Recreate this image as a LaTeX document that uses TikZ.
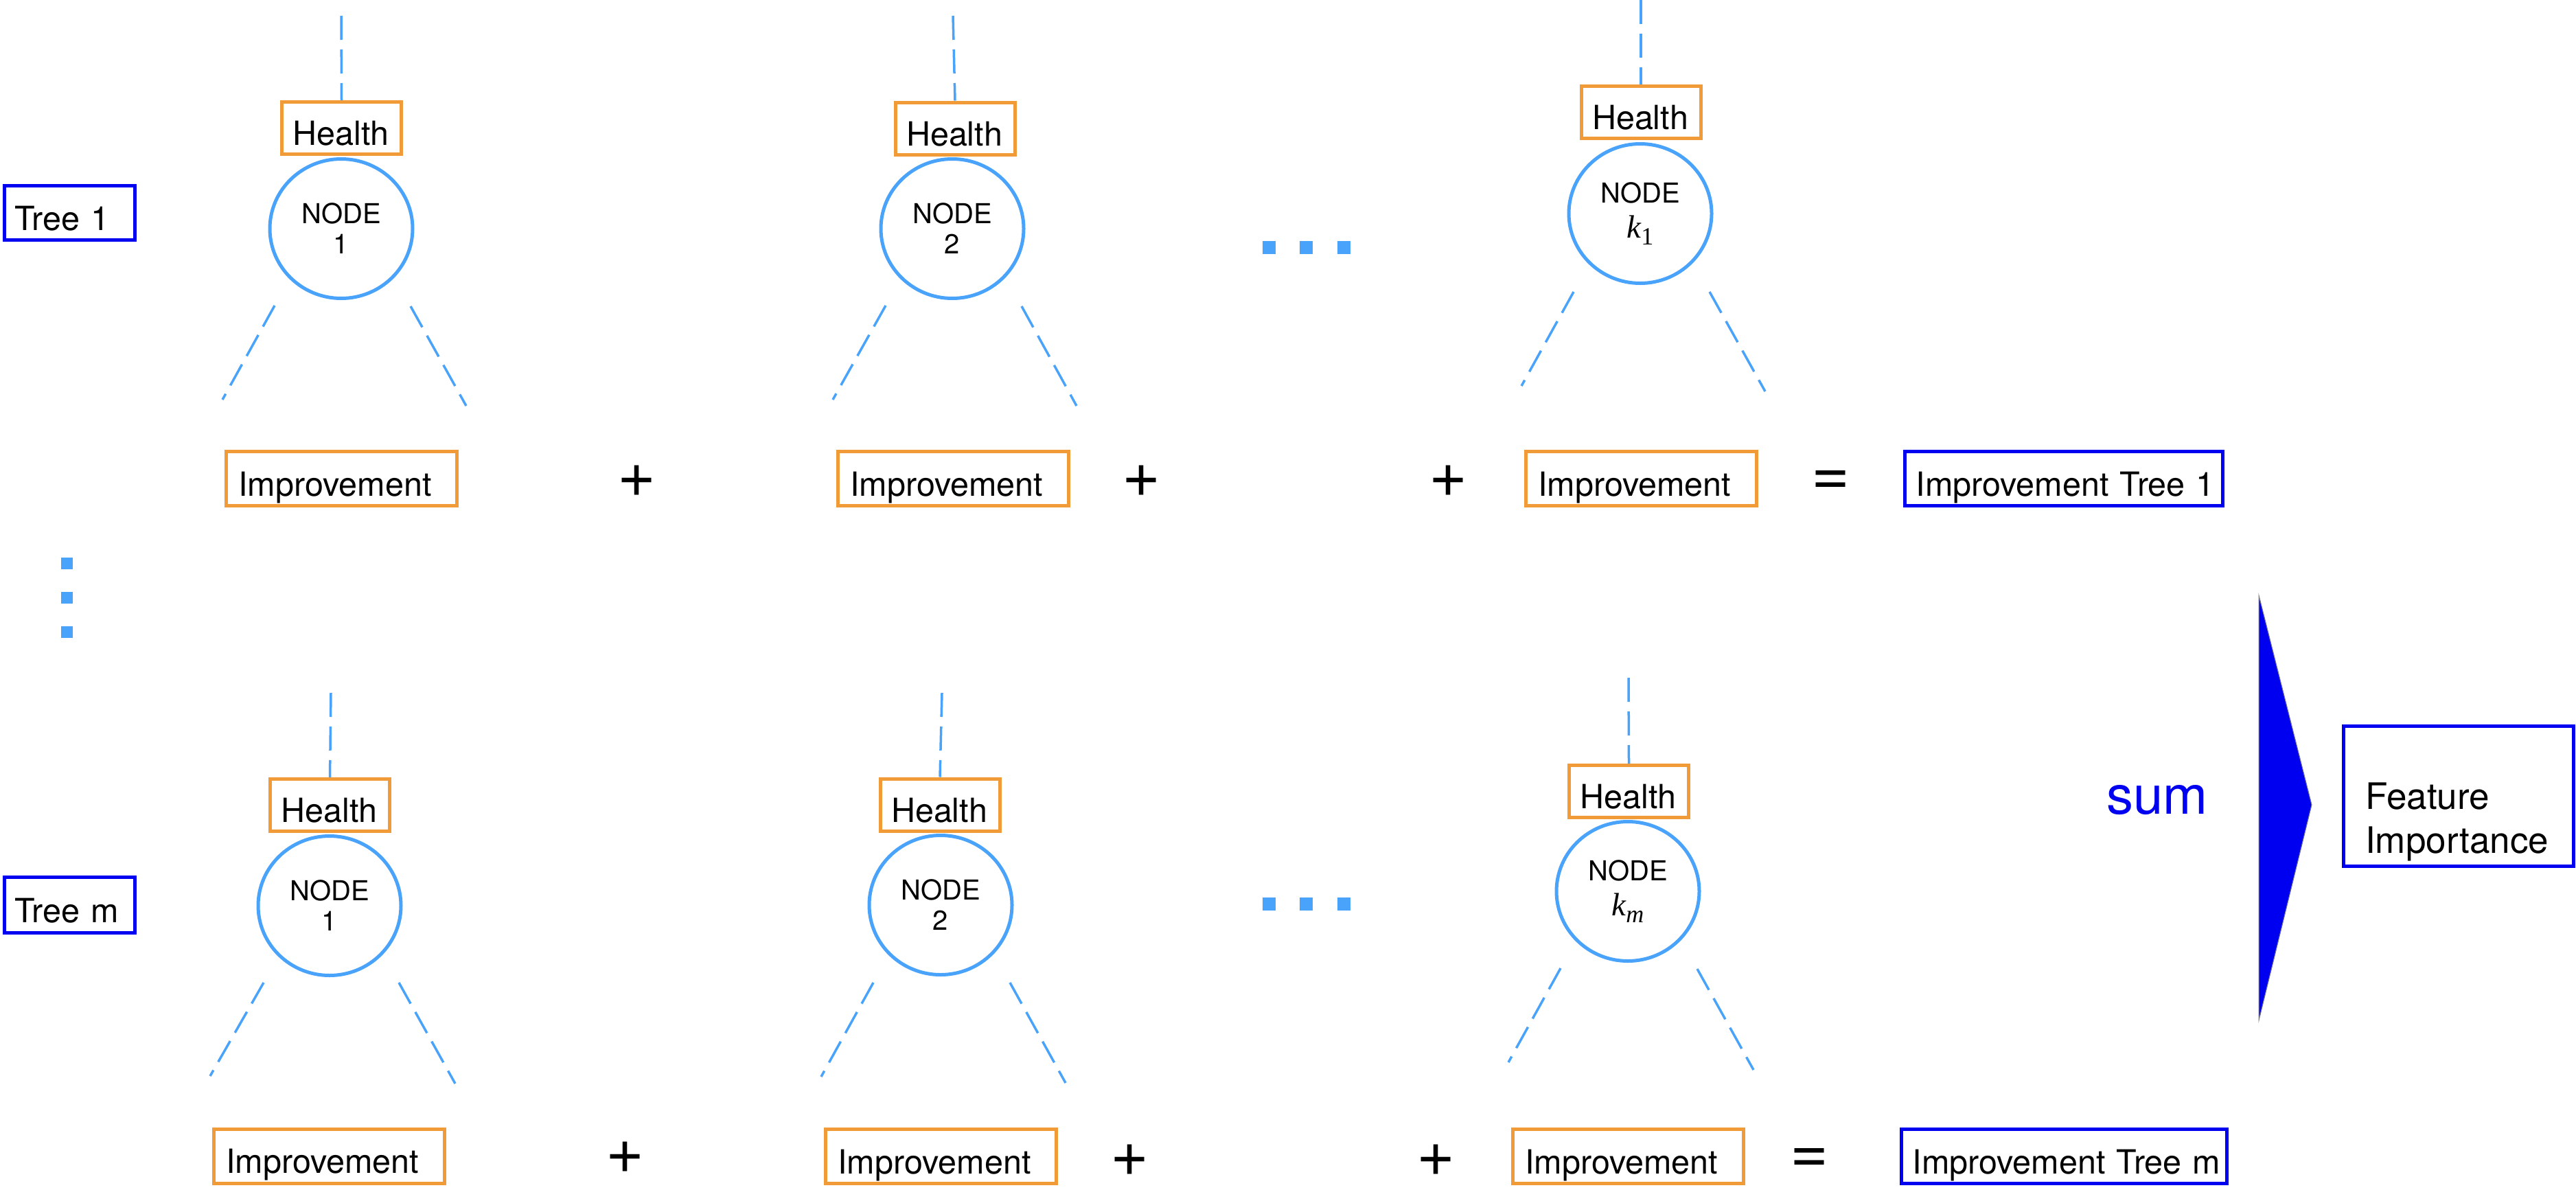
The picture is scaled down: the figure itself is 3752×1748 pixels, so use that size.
\documentclass[tikz,border=0pt]{standalone}
\usepackage{fontspec}
\setmainfont{TeX Gyre Heros}
\newfontfamily\tnrfont{Liberation Serif}
\usetikzlibrary{shapes.geometric}
\definecolor{korange}{RGB}{240,154,56}
\definecolor{klblue}{RGB}{74,163,250}
\definecolor{kblue}{RGB}{0,0,240}
\newcommand{\myLab}{\fontsize{48.5}{56}\selectfont}
\newcommand{\myNode}{\fontsize{40}{44}\selectfont}
\newcommand{\kvar}[1]{{\fontsize{47}{47}\selectfont\tnrfont\itshape k}\raisebox{-10pt}{\fontsize{36}{36}\selectfont\tnrfont #1}}
\begin{document}
\begin{tikzpicture}[x=1pt,y=-1pt,
  box/.style={rectangle, line width=5pt, inner ysep=0pt, align=left, text height=50pt, text depth=0pt, font=\myLab},
  obox/.style={box, draw=korange},
  bbox/.style={box, draw=kblue},
  impr/.style={obox, minimum height=79pt, text width=300pt, inner xsep=18pt},
  health/.style={obox, minimum height=76pt, text width=142pt, inner xsep=16pt},
  treebox/.style={bbox, minimum height=79pt, text width=160pt, inner xsep=15pt},
  resbox/.style={bbox, minimum height=79pt, text width=#1, inner xsep=16pt},
  tnode/.style={ellipse, draw=klblue, line width=5pt, minimum width=208pt, minimum height=203pt, inner sep=0pt, align=center, font=\myNode},
  branch/.style={draw=klblue, line width=3.5pt, dash pattern=on 35pt off 14pt},
  dotsq/.style={rectangle, fill=klblue, inner sep=0pt, minimum size=#1},
  op/.style={font=\fontsize{96}{96}\selectfont, inner sep=0pt},
]
\useasboundingbox (0,0) rectangle (3752,1748);

% ---------------- row 1 ----------------
\node[treebox] (tree1) at (101.5,310) {Tree 1};

% tree 1, node 1
\node[health] (h11) at (497.5,186.5) {Health};
\node[tnode] (c11) at (497,333) {NODE\\1};
\node[impr] (i11) at (497.5,697) {Improvement};
\coordinate (t11) at (497,23);
\coordinate (l11a) at (400,445); \coordinate (l11b) at (324,582);
\coordinate (r11a) at (598,446); \coordinate (r11b) at (679,591);
\draw[branch] (t11) -- (h11.north);
\draw[branch] (l11a) -- (l11b);
\draw[branch] (r11a) -- (r11b);

% tree 1, node 2
\node[health] (h12) at (1391,187) {Health};
\node[tnode] (c12) at (1387,333) {NODE\\2};
\node[impr] (i12) at (1388,697) {Improvement};
\coordinate (t12) at (1388,23);
\coordinate (l12a) at (1290,445); \coordinate (l12b) at (1213,582);
\coordinate (r12a) at (1488,446); \coordinate (r12b) at (1568,591);
\draw[branch] (t12) -- (h12.north);
\draw[branch] (l12a) -- (l12b);
\draw[branch] (r12a) -- (r12b);

% tree 1, node k1
\node[health] (h13) at (2390,163) {Health};
\node[tnode] (c13) at (2389,311) {NODE\\[7pt]\kvar{1}};
\node[impr] (i13) at (2390,697) {Improvement};
\coordinate (t13) at (2390,0);
\coordinate (l13a) at (2292,425); \coordinate (l13b) at (2216,562);
\coordinate (r13a) at (2490,425); \coordinate (r13b) at (2571,570);
\draw[branch] (t13) -- (h13.north);
\draw[branch] (l13a) -- (l13b);
\draw[branch] (r13a) -- (r13b);

\node[dotsq=19pt] (d11) at (1848,360) {};
\node[dotsq=19pt] (d12) at (1902,360) {};
\node[dotsq=19pt] (d13) at (1957,360) {};

\node[op] (p11) at (928,701) {+};
\node[op] (p12) at (1663,701) {+};
\node[op] (p13) at (2110,701) {+};
\node[op] (e1) at (2666,703) {=};
\node[resbox=431pt] (res1) at (3006,697) {\mbox{Improvement Tree 1}};

% vertical dots
\node[dotsq=17pt] (v1) at (97,820) {};
\node[dotsq=17pt] (v2) at (97,870) {};
\node[dotsq=17pt] (v3) at (97,920) {};

% ---------------- row 2 ----------------
\node[treebox, minimum height=81pt] (treem) at (101.5,1318) {Tree m};

% tree m, node 1
\node[health] (h21) at (480.5,1172.5) {Health};
\node[tnode] (c21) at (480,1319) {NODE\\1};
\node[impr] (i21) at (479,1683.5) {Improvement};
\coordinate (t21) at (482,1009);
\coordinate (l21a) at (384,1431); \coordinate (l21b) at (306,1567);
\coordinate (r21a) at (581,1431); \coordinate (r21b) at (663,1578);
\draw[branch] (t21) -- (h21.north);
\draw[branch] (l21a) -- (l21b);
\draw[branch] (r21a) -- (r21b);

% tree m, node 2
\node[health] (h22) at (1369,1172) {Health};
\node[tnode] (c22) at (1370,1318) {NODE\\2};
\node[impr] (i22) at (1370.5,1684) {Improvement};
\coordinate (t22) at (1372,1009);
\coordinate (l22a) at (1272,1431); \coordinate (l22b) at (1196,1568);
\coordinate (r22a) at (1471,1431); \coordinate (r22b) at (1552,1577);
\draw[branch] (t22) -- (h22.north);
\draw[branch] (l22a) -- (l22b);
\draw[branch] (r22a) -- (r22b);

% tree m, node km
\node[health] (h23) at (2372.5,1152.5) {Health};
\node[tnode] (c23) at (2371,1298) {NODE\\[7pt]\kvar{\itshape m}};
\node[impr] (i23) at (2371,1684) {Improvement};
\coordinate (t23) at (2372,987);
\coordinate (l23a) at (2273,1410); \coordinate (l23b) at (2197,1547);
\coordinate (r23a) at (2472,1411); \coordinate (r23b) at (2554,1558);
\draw[branch] (t23) -- (h23.north);
\draw[branch] (l23a) -- (l23b);
\draw[branch] (r23a) -- (r23b);

\node[dotsq=19pt] (d21) at (1848,1316) {};
\node[dotsq=19pt] (d22) at (1902,1316) {};
\node[dotsq=19pt] (d23) at (1957,1316) {};

\node[op] (p21) at (911,1686) {+};
\node[op] (p22) at (1646,1690) {+};
\node[op] (p23) at (2092,1690) {+};
\node[op] (e2) at (2635,1690) {=};
\node[resbox=442pt] (res2) at (3006.5,1684) {\mbox{Improvement Tree m}};

% ---------------- sum ----------------
\node[text=kblue, font=\fontsize{78}{80}\selectfont, inner sep=0pt] (sum) at (3142,1165) {sum};
\coordinate (ta) at (3290,867);
\coordinate (tb) at (3367,1172);
\coordinate (tc) at (3290,1486);
\filldraw[fill=kblue, draw=gray, line width=1pt] (ta) -- (tb) -- (tc) -- cycle;
\node[draw=kblue, line width=5pt, minimum width=335pt, minimum height=204pt, text width=272pt, inner xsep=31.5pt, align=left, text depth=0pt, font=\fontsize{53}{64}\selectfont] (fi) at (3581,1159.5) {Feature\\Importance};
\end{tikzpicture}
\end{document}
